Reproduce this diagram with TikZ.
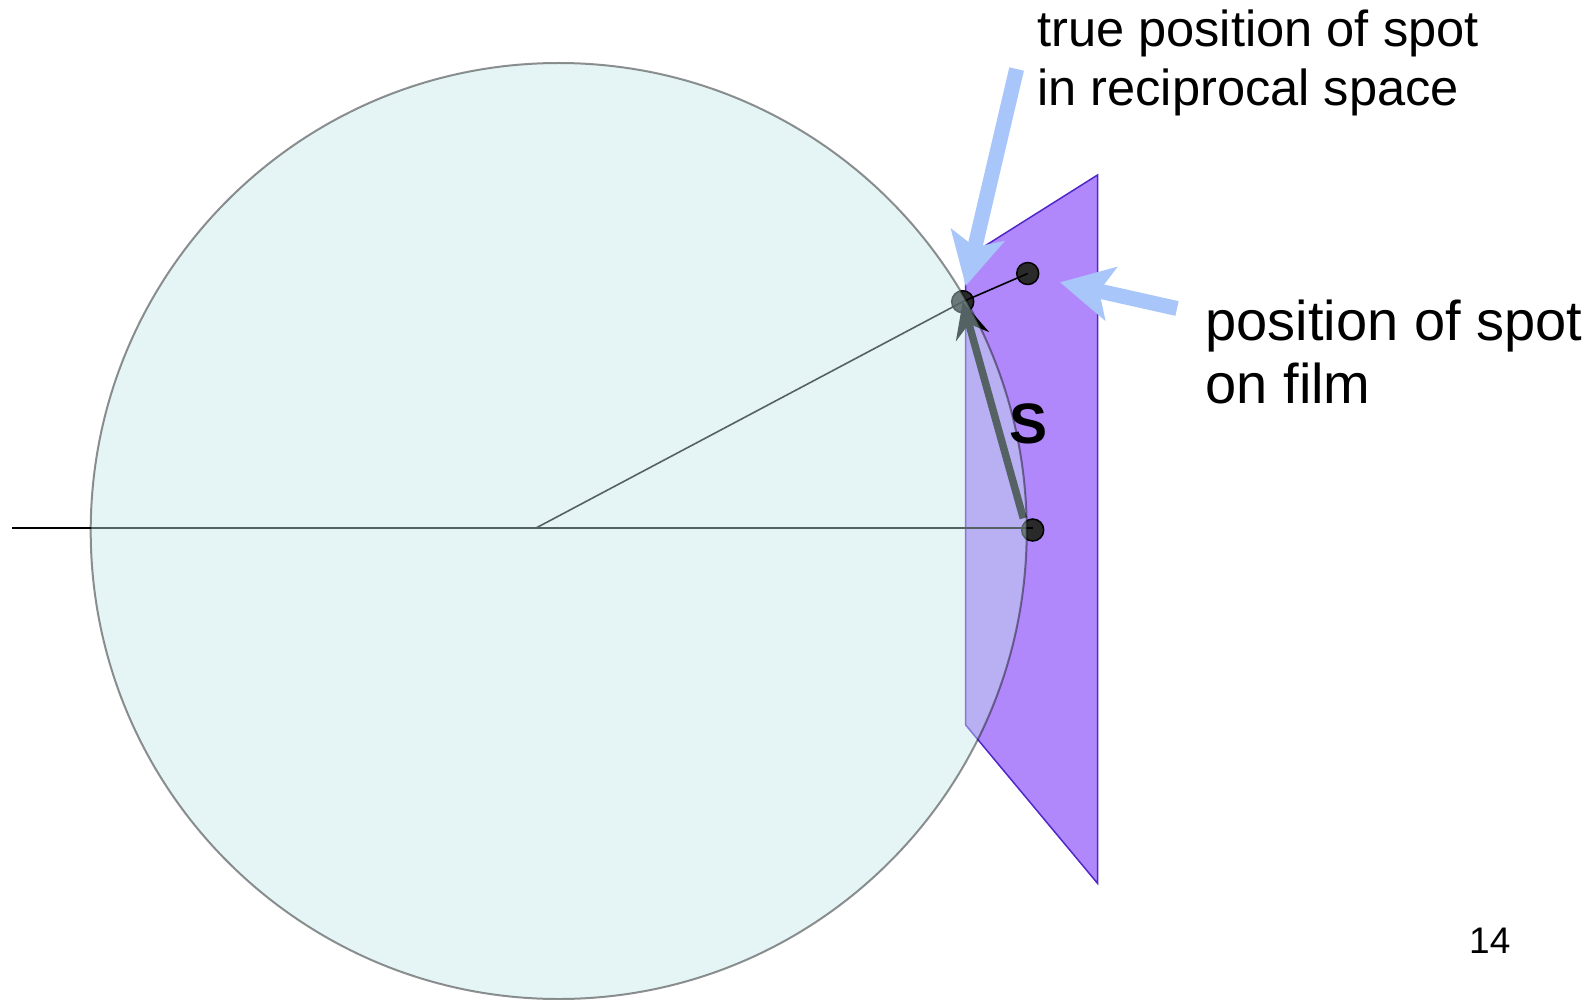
\documentclass[tikz,border=0pt]{standalone}
\usepackage{fontspec}
\setmainfont{Liberation Sans}
\usetikzlibrary{arrows.meta}
\definecolor{film}{RGB}{176,136,252}
\definecolor{filmedge}{RGB}{80,40,200}
\definecolor{sphere}{RGB}{195,229,232}
\definecolor{callout}{RGB}{168,198,250}
\definecolor{dotfill}{RGB}{42,42,42}
\tikzset{
  dotnode/.style={circle, minimum size=22pt, inner sep=0pt, fill=dotfill, draw=black, line width=1.5pt},
  thinline/.style={draw=black, line width=1.6pt},
  sarrow/.style={draw=black, line width=7.5pt, -{Stealth[length=36pt,width=34pt,inset=13pt]}},
  bluearrow/.style={draw=callout, line width=15pt, -{Stealth[length=52pt,width=54pt,inset=12pt]}},
  label/.style={anchor=base west, inner sep=0pt, align=left},
}
\begin{document}
\begin{tikzpicture}[x=1pt,y=-1pt]
\useasboundingbox (0,0) rectangle (1594,1000);
% film plane
\draw[fill=film, draw=filmedge, line width=1.5pt]
  (965.7,258) -- (1097.5,175) -- (1097.5,883.3) -- (965.7,725) -- cycle;
% points
\coordinate (L) at (12.2,528);
\coordinate (C) at (536,528);
\node[dotnode] (O) at (1032.7,530) {};
\node[dotnode] (P) at (962.7,301.7) {};
\node[dotnode] (F) at (1027.7,273.5) {};
\draw[thinline, line width=2pt] (L) -- (L -| O);
\draw[thinline] (C) -- (P.center) -- (F.center);
% scattering vector
\coordinate (S0) at (1023.3,518.3);
\draw[sarrow] (S0) -- (P.center);
% Ewald sphere (translucent, on top)
\node[circle, minimum size=936pt, inner sep=0pt, fill=sphere, draw=black, line width=2pt, opacity=0.43] (E) at (558.7,531) {};
% label S
\node[anchor=base west, inner sep=0pt, font=\fontsize{57}{60}\selectfont\bfseries] (Slab) at (1009,443.3) {S};
% callout arrows
\coordinate (A1s) at (1016.6,69);
\coordinate (A1t) at (965.7,286);
\coordinate (A2s) at (1177,308.5);
\coordinate (A2t) at (1060,282.3);
\draw[bluearrow] (A1s) -- (A1t);
\draw[bluearrow] (A2s) -- (A2t);
% texts
\node[label, font=\fontsize{50.6}{59}\selectfont] (T1) at (1037,106) {true position of spot\\in reciprocal space};
\node[label, font=\fontsize{56}{63.3}\selectfont] (T2) at (1205.5,403.3) {position of spot\\on film};
\node[anchor=base west, inner sep=0pt, font=\fontsize{37}{40}\selectfont] (pg) at (1469,953.3) {14};
\end{tikzpicture}
\end{document}
